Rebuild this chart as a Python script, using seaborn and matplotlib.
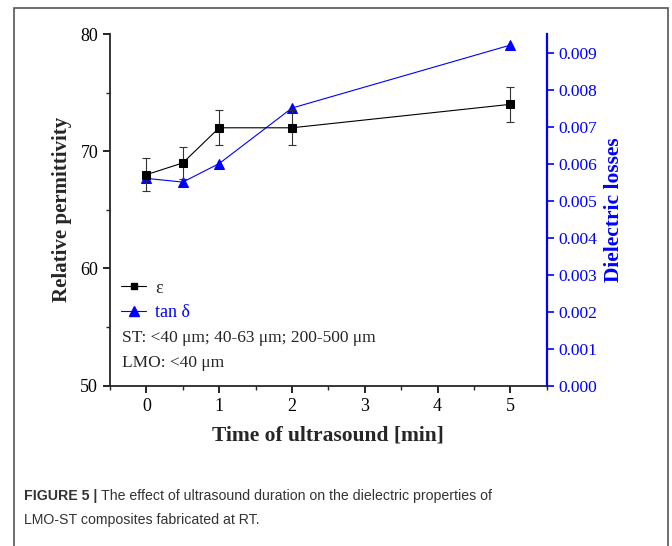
import numpy as np
import pandas as pd
import matplotlib
matplotlib.use("Agg")
import matplotlib.pyplot as plt
from matplotlib.ticker import MultipleLocator, FormatStrFormatter
from matplotlib.lines import Line2D
from matplotlib.patches import Rectangle
from matplotlib import font_manager
import seaborn as sns

# ---- data ----
time_min = [0, 0.5, 1, 2, 5]
permittivity = [68.0, 69.0, 72.0, 72.0, 74.0]
permittivity_err = [1.4, 1.4, 1.5, 1.5, 1.5]
tan_delta = [0.0056, 0.0055, 0.0060, 0.0075, 0.0092]

x_ticks = [0, 1, 2, 3, 4, 5]
left_ticks = [50, 60, 70, 80]
right_ticks = [0.000, 0.001, 0.002, 0.003, 0.004, 0.005, 0.006, 0.007, 0.008, 0.009]

xlabel = "Time of ultrasound [min]"
ylabel_left = "Relative permittivity"
ylabel_right = "Dielectric losses"
legend_labels = ["ε", "tan δ"]
note_lines = ["ST: <40 μm; 40-63 μm; 200-500 μm", "LMO: <40 μm"]
caption_bold = "FIGURE 5 | "
caption_rest_1 = "The effect of ultrasound duration on the dielectric properties of"
caption_line_2 = "LMO-ST composites fabricated at RT."

df = pd.DataFrame({"time": time_min, "eps": permittivity, "err": permittivity_err, "tan": tan_delta})

sns.set_style("ticks")
plt.rcParams["font.family"] = ["Liberation Serif", "DejaVu Serif"]
plt.rcParams["mathtext.fontset"] = "stix"

available = {f.name for f in font_manager.fontManager.ttflist}
if "Liberation Sans Narrow" in available:
    cap_family = ["Liberation Sans Narrow", "DejaVu Sans"]
    cap_size = 12.5
else:
    cap_family = ["Liberation Sans", "DejaVu Sans"]
    cap_size = 10.2

W, H = 672, 546
fig = plt.figure(figsize=(W / 100, H / 100), dpi=100)
fig.patch.set_facecolor("white")

ax = fig.add_axes([110 / W, 1 - 385.7 / H, (546.7 - 110) / W, (385.7 - 34) / H])
ax2 = ax.twinx()

blue = "#0000ff"

# error bars
ax.errorbar(df["time"], df["eps"], yerr=df["err"], fmt="none", ecolor="#333333",
            elinewidth=0.8, capsize=3, capthick=0.8, zorder=2)
sns.lineplot(data=df, x="time", y="eps", ax=ax, color="black", marker="s",
             markersize=5.5, linewidth=0.8, markeredgecolor="black", zorder=3)
sns.lineplot(data=df, x="time", y="tan", ax=ax2, color=blue, marker="^",
             markersize=7, linewidth=0.8, markeredgecolor=blue, zorder=3)

ax.set_xlim(-0.5, 5.5)
ax.set_ylim(50, 80)
ax2.set_ylim(0, 0.0095)
ax.set_xticks(x_ticks)
ax.set_yticks(left_ticks)
ax.xaxis.set_minor_locator(MultipleLocator(0.5))
ax.yaxis.set_minor_locator(MultipleLocator(5))
ax2.set_yticks(right_ticks)
ax2.yaxis.set_major_formatter(FormatStrFormatter("%.3f"))

for a in (ax, ax2):
    a.spines["top"].set_visible(False)
ax.spines["right"].set_visible(False)
ax2.spines["left"].set_visible(False)
ax2.spines["bottom"].set_visible(False)
ax.spines["left"].set_linewidth(1.3)
ax.spines["bottom"].set_linewidth(1.3)
ax2.spines["right"].set_linewidth(1.6)
ax2.spines["right"].set_color(blue)

ax.tick_params(axis="both", which="major", direction="out", length=5, width=1.2,
               labelsize=13, colors="black")
ax.tick_params(axis="both", which="minor", direction="out", length=3, width=1.0)
ax2.tick_params(axis="y", which="major", direction="out", length=5, width=1.2,
                labelsize=12.5, colors=blue)
ax2.tick_params(axis="y", which="minor", length=0)

ax.set_xlabel(xlabel, fontsize=15.5, fontweight="bold", labelpad=8)
ax.set_ylabel(ylabel_left, fontsize=15, fontweight="bold", labelpad=6)
ax2.set_ylabel(ylabel_right, fontsize=15.5, fontweight="bold", color=blue, labelpad=5)

ax.set_zorder(ax2.get_zorder() + 1)
ax.patch.set_visible(False)

handles = [
    Line2D([], [], color="black", marker="s", markersize=5, linewidth=0.8),
    Line2D([], [], color=blue, marker="^", markersize=7, linewidth=0.8),
]
leg = ax.legend(handles, legend_labels, loc="center left", bbox_to_anchor=(-0.012, 0.243),
                frameon=False, fontsize=13, handlelength=1.4, handletextpad=0.5,
                labelspacing=0.4)
leg.get_texts()[1].set_color(blue)

ax.text(0.027, 0.1356, note_lines[0], transform=ax.transAxes, fontsize=12.5, va="center")
ax.text(0.027, 0.0645, note_lines[1], transform=ax.transAxes, fontsize=12.5, va="center")

# outer frame
fig.patches.append(Rectangle((14 / W, -0.05), (668 - 14) / W, 1.05 - 8 / H,
                             transform=fig.transFigure, fill=False,
                             edgecolor="#555555", linewidth=1.2))

# caption
cap_y1 = 1 - 496 / H
cap_y2 = 1 - 520 / H
t1 = fig.text(24 / W, cap_y1, caption_bold, fontsize=cap_size, fontweight="bold",
              family=cap_family, color="#333333", va="center")
fig.canvas.draw()
bb = t1.get_window_extent(renderer=fig.canvas.get_renderer())
fig.text(bb.x1 / W, cap_y1, caption_rest_1, fontsize=cap_size,
         family=cap_family, color="#333333", va="center")
fig.text(24 / W, cap_y2, caption_line_2, fontsize=cap_size,
         family=cap_family, color="#333333", va="center")

fig.savefig("out.png", dpi=100, facecolor="white")
